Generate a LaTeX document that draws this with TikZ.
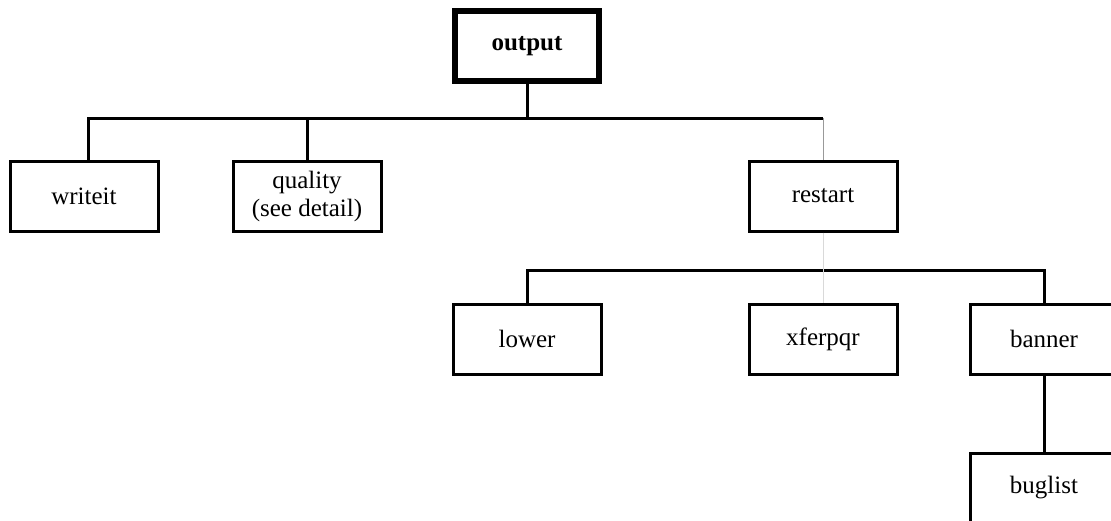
\documentclass[tikz,border=0pt]{standalone}
\usepackage{fontspec}
\setmainfont{Liberation Serif}
\usetikzlibrary{positioning}
\tikzset{
  modbox/.style={
    draw, line width=1.5pt, fill=white,
    minimum width=74pt,
    minimum height=35pt,
    font=\fontsize{12.5}{14}\selectfont,
    align=center, inner sep=2pt
  },
  topbox/.style={modbox, line width=2.6pt, font=\fontsize{12.5}{14}\selectfont\bfseries},
  link/.style={line width=1.5pt, black},
  faintlink/.style={line width=0.5pt, black!40},
  ghostlink/.style={line width=0.4pt, black!15}
}

\begin{document}
\begin{tikzpicture}[x=0.5pt, y=-0.5pt]
\useasboundingbox (0,0) rectangle (1111,520);

% top module
\node[topbox, minimum width=72pt] (output) at (527,46) {output};

% first level
\node[modbox] (writeit) at (84,196) {writeit};
\node[modbox] (quality) at (307,196) {quality\\(see detail)};
\node[modbox] (restart) at (823,196) {restart};

% second level (called by restart)
\node[modbox] (lower) at (527,339) {lower};
\node[modbox] (xferpqr) at (823,339) {xferpqr};
\node[modbox] (banner) at (1044,339) {banner};
\node[modbox] (buglist) at (1044,488) {buglist};

% bus lines
\coordinate (busA) at (527,118);
\coordinate (busB) at (823,270);

% output -> first level
\draw[link] (output.south) -- (output.south |- busA);
\draw[link] ([xshift=2pt]writeit.north) |- (restart.north |- busA);
\draw[link] (quality.north) -- (quality.north |- busA);
\draw[faintlink] (restart.north |- busA) -- (restart.north);

% restart -> second level
\draw[link] (lower.north) |- (banner.north |- busB) -- (banner.north);
\draw[ghostlink] (restart.south) -- (busB) -- (xferpqr.north);

% banner -> buglist
\draw[link] (banner.south) -- (buglist.north);

\end{tikzpicture}
\end{document}
